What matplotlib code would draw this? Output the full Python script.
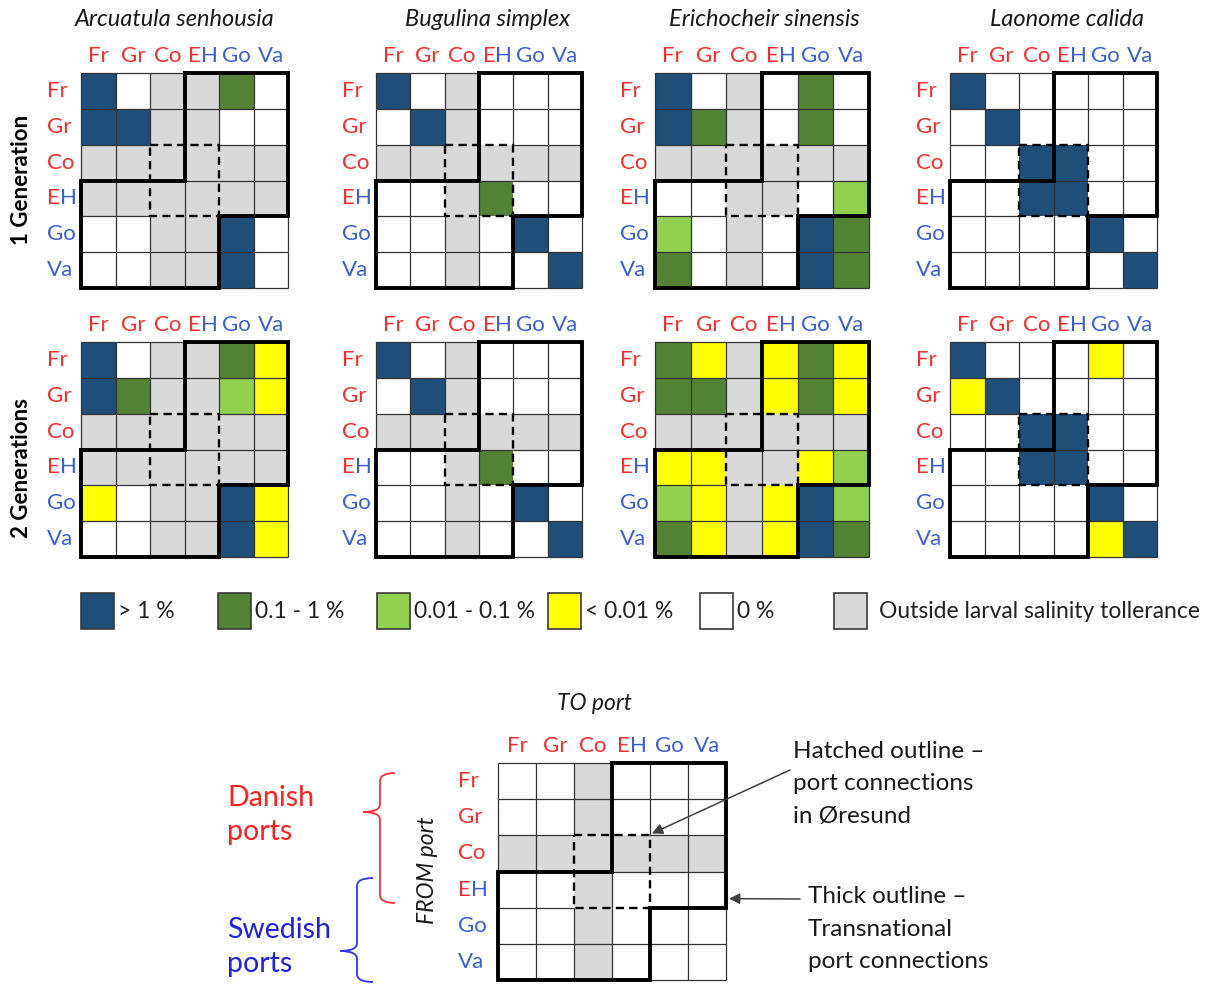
import matplotlib
matplotlib.use('Agg')
import matplotlib.pyplot as plt
import numpy as np
from matplotlib.colors import ListedColormap, BoundaryNorm
from matplotlib.collections import LineCollection
from matplotlib.patches import Rectangle, PathPatch
from matplotlib.path import Path

plt.rcParams['font.family'] = ['Lato', 'DejaVu Sans']

W, H, DPI = 1213, 984, 100

ports = ['Fr', 'Gr', 'Co', 'EH', 'Go', 'Va']
species = ['Arcuatula senhousia', 'Bugulina simplex',
           'Erichocheir sinensis', 'Laonome calida']
generations = ['1 Generation', '2 Generations']

# connectivity class for each FROM port (row) -> TO port (column)
# B >1 %, G 0.1-1 %, L 0.01-0.1 %, Y <0.01 %, W 0 %, X outside salinity tolerance
arcuatula_1 = ['BWXXGW', 'BBXXWW', 'XXXXXX', 'XXXXXX', 'WWXXBW', 'WWXXBW']
bugulina_1 = ['BWXWWW', 'WBXWWW', 'XXXXXX', 'WWXGWW', 'WWXWBW', 'WWXWWB']
eriocheir_1 = ['BWXWGW', 'BGXWGW', 'XXXXXX', 'WWXXWL', 'LWXWBG', 'GWXWBG']
laonome_1 = ['BWWWWW', 'WBWWWW', 'WWBBWW', 'WWBBWW', 'WWWWBW', 'WWWWWB']

arcuatula_2 = ['BWXXGY', 'BGXXLY', 'XXXXXX', 'XXXXXX', 'YWXXBY', 'WWXXBY']
bugulina_2 = ['BWXWWW', 'WBXWWW', 'XXXXXX', 'WWXGWW', 'WWXWBW', 'WWXWWB']
eriocheir_2 = ['GYXYGY', 'GGXYGY', 'XXXXXX', 'YYXXYL', 'LYXYBL', 'GYXYBG']
laonome_2 = ['BWWWYW', 'YBWWWW', 'WWBBWW', 'WWBBWW', 'WWWWBW', 'WWWWYB']

example = ['WWXWWW', 'WWXWWW', 'XXXXXX', 'WWXWWW', 'WWXWWW', 'WWXWWW']

class_codes = 'BGLYWX'
class_labels = ['> 1 %', '0.1 - 1 %', '0.01 - 0.1 %', '< 0.01 %', '0 %',
                'Outside larval salinity tollerance']
class_colors = ['#1f4e79', '#548235', '#92d050', '#ffff00', '#ffffff', '#d9d9d9']

RED = '#ff2a2a'
BLUE = '#3a5fd9'
cmap = ListedColormap(class_colors)
norm = BoundaryNorm(np.arange(len(class_colors) + 1) - 0.5, cmap.N)

# unit grid segments, leaving out the edges of the dashed Øresund box
n = len(ports)
dashed_box = [(2, 2), (4, 2), (4, 4), (2, 4), (2, 2)]
grid_segments = []
for k in range(n + 1):
    for m in range(n):
        on_h = k in (2, 4) and m in (2, 3)
        if not on_h:
            grid_segments.append([(m, k), (m + 1, k)])
        if not on_h:
            grid_segments.append([(k, m), (k, m + 1)])


def box(left, top, right, bottom):
    return [left / W, 1 - bottom / H, (right - left) / W, (bottom - top) / H]


def port_label(ax, x, y, name, ha, size):
    if name == 'EH':
        if ha == 'center':
            e = ax.text(x - 0.02, y, 'E', color=RED, ha='right', va='center',
                        fontsize=size, clip_on=False)
        else:
            e = ax.text(x, y, 'E', color=RED, ha='left', va='center',
                        fontsize=size, clip_on=False)
        ax.annotate('H', xy=(1, 0.5), xycoords=e, color=BLUE, ha='left',
                    va='center', fontsize=size)
    else:
        color = RED if name in ('Fr', 'Gr', 'Co') else BLUE
        ax.text(x, y, name, color=color, ha=ha, va='center', fontsize=size,
                clip_on=False)


def draw_matrix(ax, codes, size=16, row_dx=-0.98):
    grid = np.array([[class_codes.index(c) for c in row] for row in codes])
    ax.pcolormesh(np.arange(n + 1), np.arange(n + 1), grid, cmap=cmap,
                  norm=norm, edgecolors='none')
    ax.add_collection(LineCollection(grid_segments, colors='#333333',
                                     linewidths=0.9, clip_on=False))
    ax.set_xlim(0, n)
    ax.set_ylim(n, 0)
    ax.axis('off')
    # Øresund connections (dashed) and transnational connections (thick)
    bx, by = zip(*dashed_box)
    ax.plot(bx, by, color='black', lw=1.7, ls=(0, (3.5, 2.2)), clip_on=False)
    ax.plot([3, 6, 6, 4, 4, 0, 0, 3, 3], [0, 0, 4, 4, 6, 6, 3, 3, 0],
            color='black', lw=2.8, solid_joinstyle='miter', clip_on=False)
    for j, p in enumerate(ports):
        port_label(ax, j + 0.5, -0.47, p, 'center', size)
    for i, p in enumerate(ports):
        port_label(ax, row_dx, i + 0.5, p, 'left', size)


fig = plt.figure(figsize=(W / DPI, H / DPI), dpi=DPI)
bg = fig.add_axes([0, 0, 1, 1])
bg.set_xlim(0, W)
bg.set_ylim(H, 0)
bg.axis('off')

panel_x = [(81, 288), (376, 582), (655, 869), (950, 1157)]
panel_y = [(73, 288), (342, 557)]
title_x = [175, 488, 764, 1067]
matrices = [[arcuatula_1, bugulina_1, eriocheir_1, laonome_1],
            [arcuatula_2, bugulina_2, eriocheir_2, laonome_2]]

for r, (top, bottom) in enumerate(panel_y):
    for c, (left, right) in enumerate(panel_x):
        ax = fig.add_axes(box(left, top, right, bottom))
        draw_matrix(ax, matrices[r][c])
for c, name in enumerate(species):
    bg.text(title_x[c], 20, name, style='italic', fontsize=17, ha='center',
            va='center', color='#1a1a1a')
bg.text(22, 180, generations[0], rotation=90, fontweight='bold', fontsize=16,
        ha='center', va='center')
bg.text(22, 468, generations[1], rotation=90, fontweight='bold', fontsize=16,
        ha='center', va='center')

# legend
legend_x = [81, 218, 377, 548, 700, 834]
text_gap = [4, 4, 4, 4, 4, 12]
for x, gap, color, label in zip(legend_x, text_gap, class_colors, class_labels):
    bg.add_patch(Rectangle((x, 593), 33, 36, facecolor=color,
                           edgecolor='#3a3a3a', lw=1.2))
    bg.text(x + 33 + gap, 611, label, fontsize=16.5, ha='left', va='center',
            color='#222222')

# explanatory example matrix
ex = fig.add_axes(box(498, 763, 726, 980))
draw_matrix(ex, example, size=16, row_dx=-1.05)
bg.text(594, 704, 'TO port', style='italic', fontsize=16.5, ha='center',
        va='center', color='#1a1a1a')
bg.text(427, 870, 'FROM port', style='italic', fontsize=16.5, rotation=90,
        ha='center', va='center', color='#1a1a1a')

bg.text(227, 815, 'Danish\nports', color='#ff1f1f', fontsize=20.5, ha='left',
        va='center', linespacing=1.35)
bg.text(227, 947, 'Swedish\nports', color='#1f1fe6', fontsize=20.5, ha='left',
        va='center', linespacing=1.35)


def brace(x_end, x_spine, x_tip, y_top, y_tip, y_bot, color):
    verts = [(x_end, y_top), (x_spine, y_top), (x_spine, y_top + 8),
             (x_spine, y_tip - 8), (x_spine, y_tip), (x_tip, y_tip),
             (x_spine, y_tip), (x_spine, y_tip + 8),
             (x_spine, y_bot - 8), (x_spine, y_bot), (x_end, y_bot)]
    codes = [Path.MOVETO, Path.CURVE3, Path.CURVE3, Path.LINETO,
             Path.CURVE3, Path.CURVE3, Path.CURVE3, Path.CURVE3,
             Path.LINETO, Path.CURVE3, Path.CURVE3]
    bg.add_patch(PathPatch(Path(verts, codes), facecolor='none',
                           edgecolor=color, lw=1.3))


brace(395, 380, 363, 773, 812, 903, '#ff3030')
brace(373, 357, 340, 878, 951, 982, '#3030ff')

bg.text(793, 784, 'Hatched outline \u2013\nport connections\nin \u00d8resund',
        fontsize=17.5, ha='left', va='center', linespacing=1.68, color='#1a1a1a')
bg.text(808, 929, 'Thick outline \u2013\nTransnational\nport connections',
        fontsize=17.5, ha='left', va='center', linespacing=1.68, color='#1a1a1a')
arrow = dict(arrowstyle='-|>', color='#404040', lw=1.1, mutation_scale=16,
             shrinkA=0, shrinkB=0)
ex.annotate('', xy=(4.05, 1.95), xycoords='data', xytext=(790, 770),
            textcoords=bg.transData, arrowprops=arrow, annotation_clip=False)
ex.annotate('', xy=(6.08, 3.75), xycoords='data', xytext=(800, 899),
            textcoords=bg.transData, arrowprops=arrow, annotation_clip=False)

fig.savefig('out.png', dpi=DPI, facecolor='white')
